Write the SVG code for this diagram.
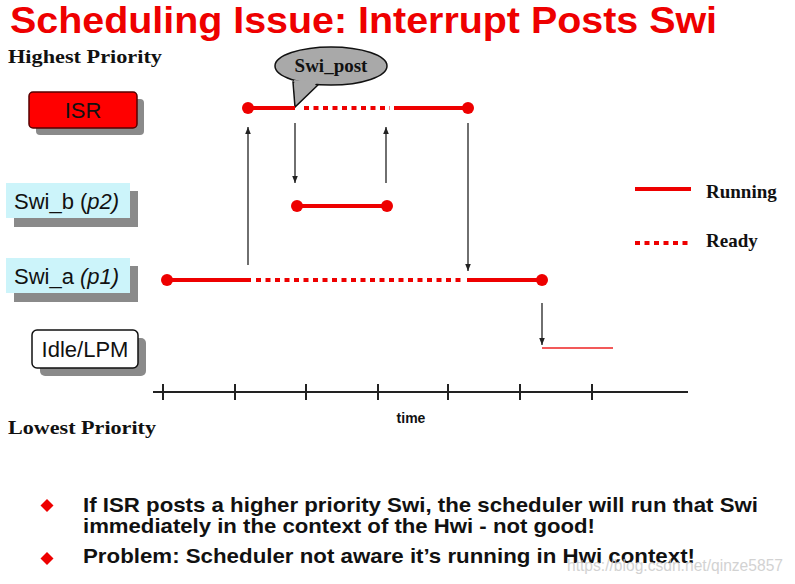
<svg xmlns="http://www.w3.org/2000/svg" width="795" height="584" viewBox="0 0 795 584">
<defs>
<style>
.title{font-family:"Liberation Sans",Arial,sans-serif;font-weight:bold;font-size:36px;fill:#ee0000}
.serif{font-family:"Liberation Serif","Times New Roman",serif;font-weight:bold;font-size:19px;fill:#111}
.lbl{font-family:"Liberation Sans",Arial,sans-serif;font-size:22px;fill:#111}
.bul{font-family:"Liberation Sans",Arial,sans-serif;font-weight:bold;font-size:21px;fill:#111}
.run{stroke:#ee0000;stroke-width:4;fill:none}
.rdy{stroke:#ee0000;stroke-width:4;fill:none;stroke-dasharray:5 4.5}
.dot{fill:#ee0000}
.arr{stroke:#333;stroke-width:1.4;fill:none;marker-end:url(#ah)}
.shadow{fill:#8a8a8a}
.axis{stroke:#222;stroke-width:2;fill:none}
</style>
<marker id="ah" viewBox="0 0 10 10" refX="10" refY="5" markerWidth="7" markerHeight="7" markerUnits="userSpaceOnUse" orient="auto">
<path d="M0,1 L10,5 L0,9 Z" fill="#222"/>
</marker>
</defs>
<rect width="795" height="584" fill="#fff"/>

<g id="title"><text class="title" x="10" y="33" textLength="707" lengthAdjust="spacingAndGlyphs">Scheduling Issue: Interrupt Posts Swi</text></g>
<g id="highest"><text class="serif" x="8" y="63" textLength="154" lengthAdjust="spacingAndGlyphs">Highest Priority</text></g>
<g id="lowest"><text class="serif" x="8" y="434" textLength="148" lengthAdjust="spacingAndGlyphs">Lowest Priority</text></g>

<g id="isr">
<rect class="shadow" x="36" y="99" width="108" height="36" rx="4"/>
<rect x="29" y="92" width="108" height="36" rx="4" fill="#ff0000" stroke="#550000" stroke-width="1.5"/>
<text class="lbl" x="83" y="118" text-anchor="middle">ISR</text>
</g>
<g id="swi_b">
<rect class="shadow" x="14" y="191" width="124" height="36"/>
<rect x="6" y="183" width="124" height="35" fill="#ccf4fa"/>
<text class="lbl" x="14" y="209">Swi_b (<tspan font-style="italic">p2)</tspan></text>
</g>
<g id="swi_a">
<rect class="shadow" x="14" y="266" width="124" height="36"/>
<rect x="6" y="258" width="124" height="35" fill="#ccf4fa"/>
<text class="lbl" x="14" y="284">Swi_a <tspan font-style="italic">(p1)</tspan></text>
</g>
<g id="idle">
<rect class="shadow" x="40" y="338" width="106" height="38" rx="5"/>
<rect x="32" y="330" width="106" height="38" rx="5" fill="#fff" stroke="#111" stroke-width="1.5"/>
<text class="lbl" x="85" y="357" text-anchor="middle">Idle/LPM</text>
</g>

<g id="swi_post">
<path d="M293,82 L295,107 L320,83 Z" fill="#a9a9a9" stroke="#111" stroke-width="1.5"/>
<ellipse cx="331" cy="66" rx="56" ry="19" fill="#a9a9a9" stroke="#111" stroke-width="1.5"/>
<path d="M294,80 L296,103 L318,82" fill="#a9a9a9" stroke="none"/>
<text class="serif" x="331" y="72" text-anchor="middle">Swi_post</text>
</g>

<g id="timelines">
<line class="run" x1="248" y1="108" x2="295" y2="108"/>
<line class="rdy" x1="304" y1="108" x2="390" y2="108"/>
<line class="run" x1="394" y1="108" x2="468" y2="108"/>
<circle class="dot" cx="248" cy="108" r="6"/>
<circle class="dot" cx="468" cy="108" r="6"/>

<line class="run" x1="297" y1="206" x2="387" y2="206"/>
<circle class="dot" cx="297" cy="206" r="6"/>
<circle class="dot" cx="387" cy="206" r="6"/>

<line class="run" x1="167" y1="280" x2="251" y2="280"/>
<line class="rdy" x1="256" y1="280" x2="464" y2="280"/>
<line class="run" x1="467" y1="280" x2="542" y2="280"/>
<circle class="dot" cx="167" cy="280" r="6"/>
<circle class="dot" cx="542" cy="280" r="6"/>

<line x1="542" y1="348" x2="613" y2="348" stroke="#ee2222" stroke-width="1.5"/>
</g>

<g id="connectors">
<line class="arr" x1="248" y1="265" x2="248" y2="127"/>
<line class="arr" x1="295" y1="123" x2="295" y2="183"/>
<line class="arr" x1="386" y1="183" x2="386" y2="127"/>
<line class="arr" x1="468" y1="123" x2="468" y2="271"/>
<line class="arr" x1="542" y1="303" x2="542" y2="345"/>
</g>

<g id="legend">
<line class="run" x1="635" y1="189" x2="691" y2="189"/>
<text class="serif" x="706" y="198">Running</text>
<line class="rdy" x1="635" y1="243" x2="691" y2="243"/>
<text class="serif" x="706" y="247">Ready</text>
</g>

<g id="axis">
<line class="axis" x1="153" y1="392" x2="688" y2="392"/>
<path class="axis" stroke-width="1.5" d="M163,384V400M235,384V400M306,384V400M378,384V400M448,384V400M520,384V400M592,384V400"/>
<text x="411" y="423" text-anchor="middle" font-family="Liberation Sans,Arial,sans-serif" font-weight="bold" font-size="14" fill="#111">time</text>
</g>

<g id="bullets">
<path d="M47,499 L53.5,505.5 L47,512 L40.5,505.5 Z" fill="#ee0000"/>
<path d="M47,552 L53.5,558.5 L47,565 L40.5,558.5 Z" fill="#ee0000"/>
<text class="bul" x="83" y="512" textLength="675" lengthAdjust="spacingAndGlyphs">If ISR posts a higher priority Swi, the scheduler will run that Swi</text>
<text class="bul" x="83" y="533" textLength="512" lengthAdjust="spacingAndGlyphs">immediately in the context of the Hwi - not good!</text>
<text class="bul" x="83" y="563" textLength="612" lengthAdjust="spacingAndGlyphs">Problem: Scheduler not aware it’s running in Hwi context!</text>
</g>

<g id="watermark">
<text x="567" y="571" font-family="Liberation Sans,Arial,sans-serif" font-size="17" fill="#c8c8c8" opacity="0.8" textLength="216" lengthAdjust="spacingAndGlyphs">https://blog.csdn.net/qinze5857</text>
</g>
</svg>
